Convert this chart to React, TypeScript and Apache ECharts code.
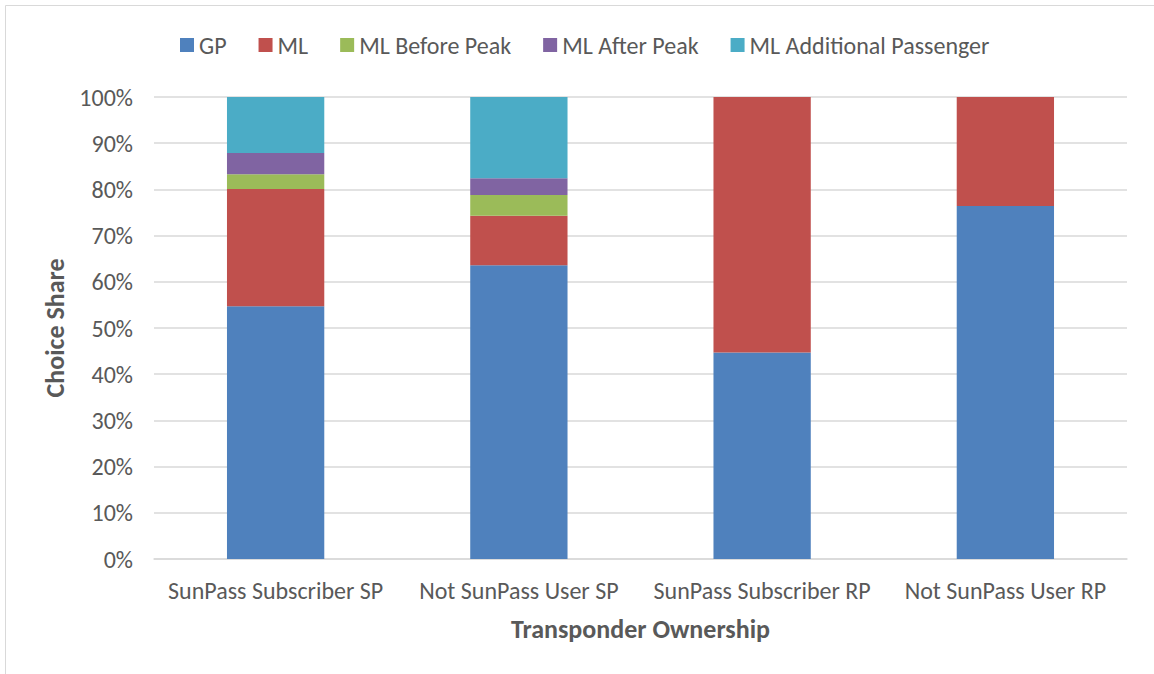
import React, { useEffect, useRef } from "react";
import * as echarts from "echarts";

const categories = [
  "SunPass Subscriber SP",
  "Not SunPass User SP",
  "SunPass Subscriber RP",
  "Not SunPass User RP",
];
const seriesNames = ["GP", "ML", "ML Before Peak", "ML After Peak", "ML Additional Passenger"];
const gp = [54.7, 63.6, 44.7, 76.4];
const ml = [25.4, 10.7, 55.3, 23.6];
const mlBeforePeak = [3.2, 4.5, 0, 0];
const mlAfterPeak = [4.6, 3.6, 0, 0];
const mlAdditional = [12.1, 17.6, 0, 0];
const colors = ["#4f81bd", "#c0504d", "#9bbb59", "#8064a2", "#4bacc6"];

const FONT = "Carlito, Lato, sans-serif";

export default function App() {
  const ref = useRef<HTMLDivElement>(null);
  useEffect(() => {
    if (!ref.current) return;
    const chart = echarts.init(ref.current, undefined, { renderer: "svg" });
    const values = [gp, ml, mlBeforePeak, mlAfterPeak, mlAdditional];
    chart.setOption({
      animation: false,
      backgroundColor: "#ffffff",
      color: colors,
      textStyle: { fontFamily: FONT },
      graphic: [
        {
          type: "rect",
          shape: { x: 5.5, y: 5.5, width: 1300, height: 800 },
          style: { fill: "none", stroke: "#d9d9d9", lineWidth: 1 },
          silent: true,
        },
      ],
      legend: {
        left: 175,
        top: 28,
        icon: "rect",
        itemWidth: 14,
        itemHeight: 14,
        itemGap: 32,
        textStyle: { fontFamily: FONT, fontSize: 24, color: "#595959" },
        data: seriesNames,
      },
      grid: { left: 154, right: 27, top: 97, bottom: 115 },
      xAxis: {
        type: "category",
        data: categories,
        axisLine: { lineStyle: { color: "#d9d9d9", width: 1.5 } },
        axisTick: { show: false },
        axisLabel: { color: "#595959", fontSize: 24, fontFamily: FONT, margin: 19, interval: 0 },
        name: "Transponder Ownership",
        nameLocation: "middle",
        nameGap: 57,
        nameTextStyle: { fontFamily: FONT, fontSize: 26, fontWeight: "bold", color: "#595959" },
      },
      yAxis: {
        type: "value",
        min: 0,
        max: 100,
        interval: 10,
        axisLine: { show: false },
        axisTick: { show: false },
        splitLine: { lineStyle: { color: "#d9d9d9", width: 1.5 } },
        axisLabel: { color: "#595959", fontSize: 24, fontFamily: FONT, margin: 21, formatter: "{value}%" },
        name: "Choice Share",
        nameLocation: "middle",
        nameGap: 86,
        nameTextStyle: { fontFamily: FONT, fontSize: 26, fontWeight: "bold", color: "#595959" },
      },
      series: seriesNames.map((name, i) => ({
        name,
        type: "bar",
        stack: "total",
        barWidth: "40%",
        data: values[i],
        itemStyle: { color: colors[i] },
      })),
    });
    return () => chart.dispose();
  }, []);
  return (
    <div
      ref={ref}
      style={{ position: "fixed", left: 0, top: 0, width: 1154, height: 674 }}
    />
  );
}
